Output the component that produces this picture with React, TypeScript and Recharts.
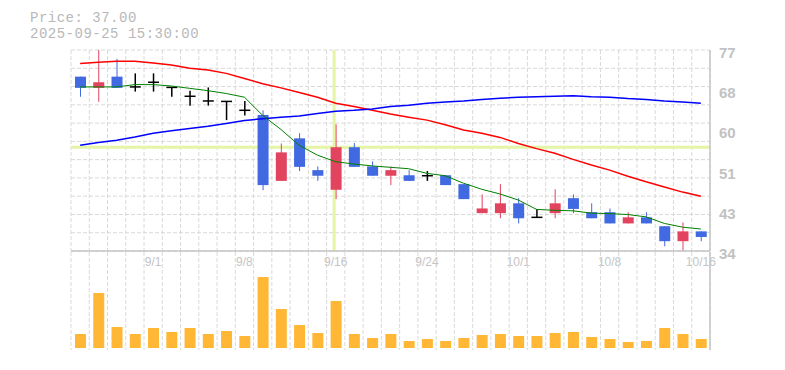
import { Bar, CartesianGrid, ComposedChart, Line, ReferenceLine, XAxis, YAxis } from 'recharts'

const dates = [
  '8/26', '8/27', '8/28', '8/29', '9/1', '9/2', '9/3', '9/4', '9/5', '9/8', '9/9', '9/10',
  '9/11', '9/12', '9/16', '9/17', '9/18', '9/19', '9/22', '9/24', '9/25', '9/26', '9/29',
  '9/30', '10/1', '10/2', '10/3', '10/6', '10/7', '10/8', '10/9', '10/10', '10/14', '10/15',
  '10/16',
]
const dateTicks = ['9/1', '9/8', '9/16', '9/24', '10/1', '10/8', '10/16']

const open = [
  71.3, 68.9, 71.3, 69.1, 70.1, 69.0, 67.1, 66.1, 66.0, 64.1, 63.1, 49.0, 58.1, 51.3, 47.1, 56.2,
  52.1, 50.1, 50.2, 50.1, 50.2, 48.3, 42.1, 42.1, 44.2, 41.2, 42.1, 45.3, 42.3, 42.3, 39.9, 41.2,
  39.3, 36.1, 38.2,
]
const high = [
  71.3, 77.0, 75.1, 72.0, 72.0, 69.0, 68.3, 69.0, 66.0, 66.1, 64.1, 57.0, 59.2, 52.1, 61.1, 57.1,
  53.2, 52.1, 51.3, 51.1, 50.2, 48.3, 46.1, 48.3, 45.3, 43.0, 47.2, 46.1, 44.2, 43.1, 42.3, 42.3,
  39.3, 40.1, 38.2,
]
const low = [
  67.0, 65.9, 68.9, 68.1, 68.1, 67.0, 65.1, 65.1, 62.0, 63.0, 47.0, 49.0, 51.1, 49.0, 45.1, 52.0,
  50.1, 48.1, 49.0, 49.0, 48.1, 45.1, 42.1, 41.0, 39.9, 41.2, 41.0, 42.1, 41.0, 39.9, 39.9, 39.9,
  35.0, 34.0, 36.1,
]
const close = [
  68.9, 70.1, 68.9, 69.1, 70.1, 69.0, 67.1, 66.1, 66.0, 64.1, 48.1, 55.1, 52.0, 50.1, 56.2, 52.0,
  50.1, 51.3, 49.0, 50.1, 48.1, 45.1, 43.1, 44.2, 41.0, 41.2, 44.2, 43.0, 41.0, 39.9, 41.2, 39.9,
  36.1, 38.2, 37.0,
]
const ma5 = [
  69.1, 69.1, 69.1, 69.6, 69.6, 69.3, 68.8, 68.3, 67.7, 66.9, 63.0, 60.0, 56.6, 54.5, 53.1, 52.6,
  52.2, 51.9, 51.6, 50.6, 50.1, 48.5, 47.2, 46.2, 44.9, 42.9, 42.7, 42.6, 42.1, 42.0, 41.8, 41.3,
  39.9, 39.1, 38.7,
]
const ma25 = [
  74.1, 74.4, 74.6, 74.6, 74.2, 73.8, 73.1, 72.7, 72.0, 70.9, 69.8, 68.9, 67.9, 66.9, 65.6, 64.9,
  64.1, 63.3, 62.6, 62.0, 61.0, 59.9, 59.2, 58.3, 57.0, 55.9, 54.9, 53.6, 52.4, 51.3, 50.0, 48.8,
  47.7, 46.6, 45.7,
]
const ma75 = [
  56.6, 57.2, 57.7, 58.4, 59.2, 59.7, 60.2, 60.7, 61.3, 61.9, 62.3, 62.6, 62.9, 63.4, 63.9, 64.1,
  64.4, 64.9, 65.2, 65.6, 65.9, 66.1, 66.4, 66.7, 66.9, 67.0, 67.1, 67.2, 67.0, 66.9, 66.6, 66.4,
  66.1, 65.9, 65.6,
]
// thousands of shares
const volume = [
  14, 55, 21, 14, 20, 16, 20, 14, 17, 12, 71, 39, 23, 15, 47, 14, 10, 14, 7, 9, 7, 10, 13, 14, 12,
  12, 15, 16, 11, 9, 6, 7, 20, 14, 9,
]
const priceTicks = [34, 42.6, 51.2, 59.8, 68.4, 77]
const hoverIndex = 14

const BLUE = '#4169e1'
const RED = '#e2435f'
const GRID = '#d9d9d9'
const AXIS = '#c4c4c4'
const CROSS = '#e4f5a6'

const data = dates.map((date, i) => ({
  date,
  open: open[i],
  high: high[i],
  low: low[i],
  close: close[i],
  range: [low[i], high[i]],
  ma5: ma5[i],
  ma25: ma25[i],
  ma75: ma75[i],
  volume: volume[i],
}))

const priceMargin = { top: 50, right: 35, bottom: 0, left: 71 }

function Candle(props: any) {
  const { x, y, width, height, payload } = props
  if (!payload) return null
  const span = payload.high - payload.low || 1
  const ratio = height / span
  const yOpen = y + (payload.high - payload.open) * ratio
  const yClose = y + (payload.high - payload.close) * ratio
  const cx = x + width / 2
  const doji = payload.open === payload.close
  const color = doji ? '#000' : payload.close > payload.open ? RED : BLUE
  return (
    <g>
      <line x1={cx} x2={cx} y1={y} y2={y + height} stroke={color} strokeWidth={doji ? 1.5 : 1} />
      {doji ? (
        <line x1={x} x2={x + width} y1={yOpen} y2={yOpen} stroke="#000" strokeWidth={1.5} />
      ) : (
        <rect x={x} y={Math.min(yOpen, yClose)} width={width} height={Math.abs(yOpen - yClose)} fill={color} />
      )}
    </g>
  )
}

function PriceTick({ x, y, payload }: any) {
  return (
    <text x={x + 1} y={y + 8} fill="#c2c2c2" fontSize={15} fontWeight="bold" fontFamily="'Liberation Sans', Arial">
      {Math.round(payload.value)}
    </text>
  )
}

function DateTick({ x, y, payload }: any) {
  return (
    <text x={x} y={y + 15} textAnchor="middle" fill="#c4c4c4" fontSize={12} fontFamily="'Liberation Sans', Arial">
      {payload.value}
    </text>
  )
}

const bandLines = ({ offset }: any) =>
  Array.from({ length: dates.length + 1 }, (_, i) => offset.left + (i * offset.width) / dates.length)
const rowLines = ({ offset }: any) =>
  Array.from({ length: 12 }, (_, i) => offset.top + (i * offset.height) / 11)

const layer: React.CSSProperties = { position: 'absolute', left: 0, top: 0 }

export default function App() {
  return (
    <div style={{ position: 'absolute', left: 0, top: 0, width: 785, height: 370, background: '#fff' }}>
      <svg width={785} height={50} style={layer}>
        <text x={30} y={22} fill="#b8b8b8" fontSize={14} letterSpacing={0.5} fontFamily="'Liberation Mono', monospace">
          Price: {close[close.length - 1].toFixed(2)}
        </text>
        <text x={30} y={38} fill="#b8b8b8" fontSize={14} letterSpacing={0.5} fontFamily="'Liberation Mono', monospace">
          2025-09-25 15:30:00
        </text>
      </svg>

      {/* grid + crosshair, kept under the candles */}
      <div style={layer}>
        <ComposedChart width={785} height={280} data={data} margin={priceMargin}>
          <CartesianGrid
            stroke={GRID}
            strokeDasharray="4 2"
            horizontalCoordinatesGenerator={rowLines}
            verticalCoordinatesGenerator={bandLines}
          />
          <XAxis dataKey="date" height={29} tick={false} tickLine={false} axisLine={false} />
          <YAxis orientation="right" type="number" domain={[34, 77]} width={40} tick={false} tickLine={false} axisLine={false} allowDataOverflow />
          <Line dataKey="close" stroke="none" dot={false} activeDot={false} isAnimationActive={false} />
          <ReferenceLine x={dates[hoverIndex]} stroke={CROSS} strokeWidth={3} ifOverflow="visible" />
          <ReferenceLine y={close[hoverIndex]} stroke={CROSS} strokeWidth={3} ifOverflow="visible" />
        </ComposedChart>
      </div>

      <div style={layer}>
        <ComposedChart width={785} height={280} data={data} margin={priceMargin}>
          <XAxis
            dataKey="date"
            ticks={dateTicks}
            interval={0}
            height={29}
            tickLine={false}
            tickSize={0}
            tickMargin={0}
            axisLine={{ stroke: AXIS, strokeWidth: 1.5 }}
            tick={<DateTick />}
          />
          <YAxis
            orientation="right"
            type="number"
            domain={[34, 77]}
            ticks={priceTicks}
            interval={0}
            width={40}
            tickLine={false}
            axisLine={{ stroke: AXIS, strokeWidth: 1.5 }}
            tick={<PriceTick />}
            allowDataOverflow
          />
          <Line dataKey="ma25" stroke="#ff0000" strokeWidth={1.5} dot={false} isAnimationActive={false} />
          <Line dataKey="ma75" stroke="#0000ff" strokeWidth={1.5} dot={false} isAnimationActive={false} />
          <Line dataKey="ma5" stroke="#008000" strokeWidth={1} dot={false} isAnimationActive={false} />
          <Bar dataKey="range" barSize={11} shape={<Candle />} isAnimationActive={false} />
        </ComposedChart>
      </div>

      <div style={layer}>
        <ComposedChart width={785} height={370} data={data} margin={{ top: 252, right: 35, bottom: 20, left: 71 }}>
          <CartesianGrid stroke={GRID} strokeDasharray="4 2" horizontal={false} verticalCoordinatesGenerator={bandLines} />
          <XAxis dataKey="date" height={0} tick={false} tickLine={false} axisLine={{ stroke: AXIS, strokeWidth: 1.5 }} />
          <YAxis
            orientation="right"
            type="number"
            domain={[-2, 96]}
            width={40}
            tick={false}
            tickLine={false}
            axisLine={{ stroke: AXIS, strokeWidth: 1.5 }}
            allowDataOverflow
          />
          <Bar dataKey="volume" barSize={11} fill="#ffb735" isAnimationActive={false} />
        </ComposedChart>
      </div>
    </div>
  )
}
